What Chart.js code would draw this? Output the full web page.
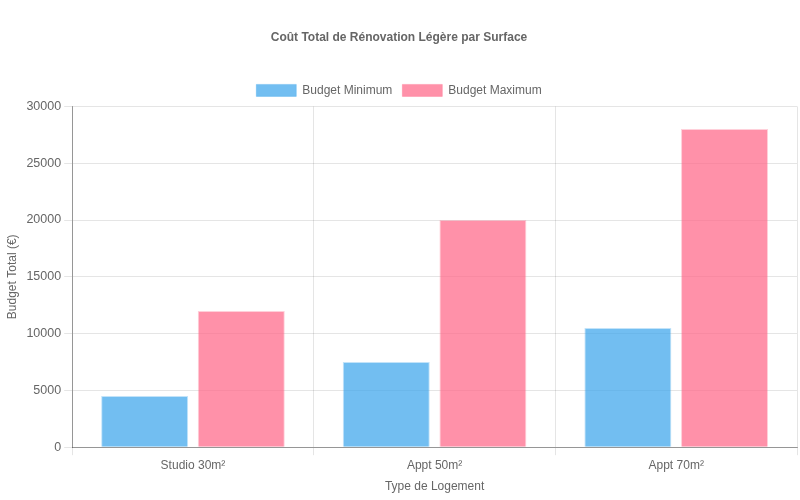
<!DOCTYPE html>
<html>
<head>
<meta charset="utf-8">
<script src="https://cdn.jsdelivr.net/npm/chart.js@4"></script>
<style>
  html, body { margin: 0; padding: 0; background: #fff; }
  #wrap { width: 800px; height: 500px; }
</style>
</head>
<body>
<div id="wrap"><canvas id="myBarChart"></canvas></div>
<script>
var categories = ['Studio 30m²', 'Appt 50m²', 'Appt 70m²'];
var budgetMin = [4500, 7500, 10500];
var budgetMax = [12000, 20000, 28000];

Chart.defaults.font.family = '"Liberation Sans", Arial, sans-serif';
Chart.defaults.color = '#666';

var ctx = document.getElementById('myBarChart').getContext('2d');

var myBarChart = new Chart(ctx, {
    type: 'bar',
    data: {
        labels: categories,
        datasets: [
            {
                label: 'Budget Minimum',
                data: budgetMin,
                backgroundColor: 'rgba(54, 162, 235, 0.7)',
                borderColor: 'rgba(54, 162, 235, 0.3)',
                borderWidth: 1
            },
            {
                label: 'Budget Maximum',
                data: budgetMax,
                backgroundColor: 'rgba(255, 99, 132, 0.7)',
                borderColor: 'rgba(255, 99, 132, 0.3)',
                borderWidth: 1
            }
        ]
    },
    options: {
        responsive: true,
        maintainAspectRatio: false,
        animation: false,
        layout: {
            padding: { left: 1, right: 3, top: 0, bottom: 2 }
        },
        plugins: {
            title: {
                display: true,
                text: 'Coût Total de Rénovation Légère par Surface',
                font: { size: 12, weight: 'bold' },
                padding: { top: 30, bottom: 30 }
            },
            legend: {
                position: 'top'
            }
        },
        scales: {
            y: {
                beginAtZero: true,
                max: 30000,
                ticks: {
                    stepSize: 5000,
                    font: { size: 12.5 },
                    callback: function (value) { return value; } // no thousands separator
                },
                border: { color: 'rgba(0, 0, 0, 0.35)' },
                title: { display: true, text: 'Budget Total (€)' }
            },
            x: {
                border: { color: 'rgba(0, 0, 0, 0.35)' },
                title: { display: true, text: 'Type de Logement' }
            }
        }
    }
});
</script>
</body>
</html>
